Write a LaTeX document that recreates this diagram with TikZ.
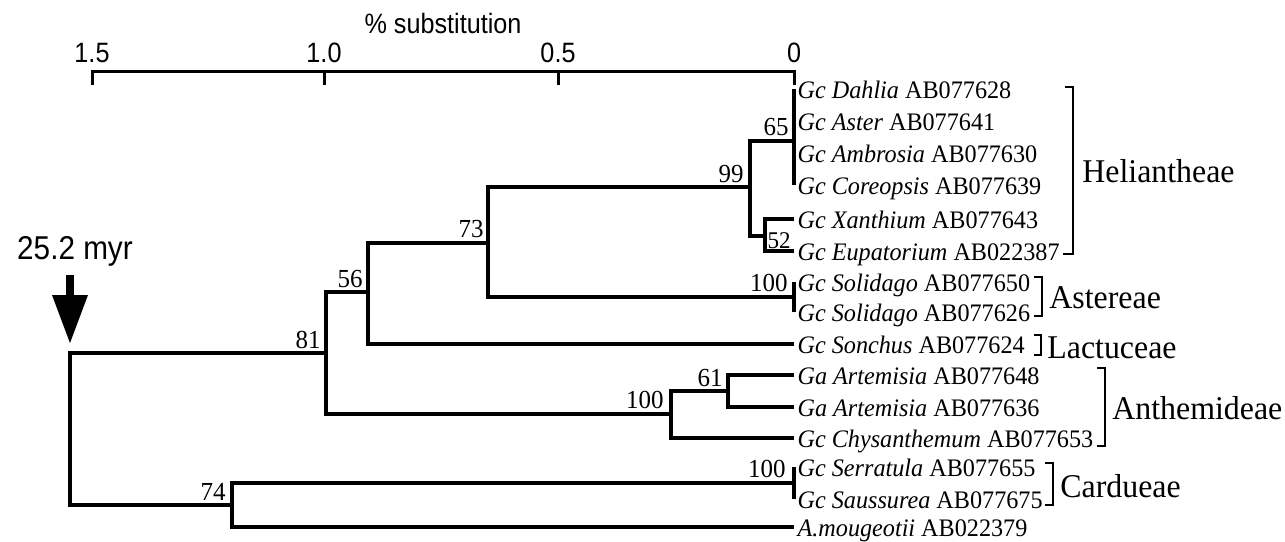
\documentclass[tikz,border=0pt]{standalone}
\usepackage{fontspec}
\setmainfont[FakeStretch=0.96]{Liberation Serif}
\newfontfamily\helv[FakeStretch=0.9]{Liberation Sans}
\begin{document}
\begin{tikzpicture}[x=0.5pt,y=-0.5pt,
  branch/.style={line width=1.7pt, line join=miter},
  bracket/.style={line width=1.4pt, line join=miter},
  axis/.style={line width=1.5pt},
  leaf/.style={anchor=west, inner xsep=1.6pt, inner ysep=0pt, text height=9pt, text depth=0pt,
               font=\fontsize{12.6}{14}\selectfont},
  boot/.style={anchor=base east, inner sep=0pt, font=\fontsize{13}{14}\selectfont},
  clade/.style={anchor=west, inner sep=0pt, text height=11pt, text depth=0pt,
                font=\fontsize{16.6}{18}\selectfont},
  scalelab/.style={anchor=base, inner sep=0pt, font=\helv\fontsize{14}{16}\selectfont}]
\useasboundingbox (0,0) rectangle (1285,541);

% ---- scale bar ----
\draw[axis] (92,85) -- (92,71) -- (794,71) -- (794,85);
\draw[axis] (324,71) -- (324,85);
\draw[axis] (558,71) -- (558,85);
\node[scalelab] (s15) at (92,62) {1.5};
\node[scalelab] (s10) at (324,62) {1.0};
\node[scalelab] (s05) at (558,62) {0.5};
\node[scalelab] (s00) at (794,62) {0};
\node[scalelab] (stitle) at (443,33) {\% substitution};

% ---- root marker ----
\node[anchor=base, inner sep=0pt, font=\helv\fontsize{16.5}{18}\selectfont] (myr) at (75,259) {25.2 myr};
\fill (66,275) rectangle (74,296);
\fill (52,295) -- (88,295) -- (70,343) -- cycle;

% ---- internal nodes ----
\coordinate (root) at (70,430);
\coordinate (n81)  at (326,353);
\coordinate (n56)  at (368,292);
\coordinate (n73)  at (488,243);
\coordinate (n99)  at (750,187);
\coordinate (n65)  at (794,141);
\coordinate (n52)  at (765,236);
\coordinate (nsol) at (794,297);
\coordinate (n100) at (671,414);
\coordinate (n61)  at (728,391);
\coordinate (n74)  at (232,505);
\coordinate (ncar) at (794,483);

% ---- leaves ----
\node[leaf] (dah)  at (794,89)  {\textit{Gc Dahlia} AB077628};
\node[leaf] (ast)  at (794,121) {\textit{Gc Aster} AB077641};
\node[leaf] (amb)  at (794,153) {\textit{Gc Ambrosia} AB077630};
\node[leaf] (cor)  at (794,185) {\textit{Gc Coreopsis} AB077639};
\node[leaf] (xan)  at (794,219) {\textit{Gc Xanthium} AB077643};
\node[leaf] (eup)  at (794,251) {\textit{Gc Eupatorium} AB022387};
\node[leaf] (sol1) at (794,282) {\textit{Gc Solidago} AB077650};
\node[leaf] (sol2) at (794,312) {\textit{Gc Solidago} AB077626};
\node[leaf] (son)  at (794,344) {\textit{Gc Sonchus} AB077624};
\node[leaf] (art1) at (794,375) {\textit{Ga Artemisia} AB077648};
\node[leaf] (art2) at (794,407) {\textit{Ga Artemisia} AB077636};
\node[leaf] (chy)  at (794,438) {\textit{Gc Chysanthemum} AB077653};
\node[leaf] (ser)  at (794,467) {\textit{Gc Serratula} AB077655};
\node[leaf] (sau)  at (794,499) {\textit{Gc Saussurea} AB077675};
\node[leaf] (amo)  at (794,527) {\textit{A.mougeotii} AB022379};

% ---- branches ----
\draw[branch] (root) |- (n81);
\draw[branch] (root) |- (n74);
\draw[branch] (n81) |- (n56);
\draw[branch] (n81) |- (n100);
\draw[branch] (n56) |- (n73);
\draw[branch] (n56) |- (son.west);
\draw[branch] (n73) |- (n99);
\draw[branch] (n73) |- (nsol);
\draw[branch] (n99) |- (n65);
\draw[branch] (n99) |- (n52);
\draw[branch] (n65) |- (dah.west);
\draw[branch] (n65) |- (cor.west);
\draw[branch] (n52) |- (xan.west);
\draw[branch] (n52) |- (eup.west);
\draw[branch] (nsol) |- (sol1.west);
\draw[branch] (nsol) |- (sol2.west);
\draw[branch] (n100) |- (n61);
\draw[branch] (n100) |- (chy.west);
\draw[branch] (n61) |- (art1.west);
\draw[branch] (n61) |- (art2.west);
\draw[branch] (n74) |- (ncar);
\draw[branch] (n74) |- (amo.west);
\draw[branch] (ncar) |- (ser.west);
\draw[branch] (ncar) |- (sau.west);

% ---- bootstrap values ----
\node[boot] (b65)  at (789,135) {65};
\node[boot] (b99)  at (744,182) {99};
\node[boot, font=\fontsize{12}{14}\selectfont] (b52) at (791,248) {52};
\node[boot] (b73)  at (484,237) {73};
\node[boot] (bsol) at (788,291) {100};
\node[boot] (b56)  at (363,287) {56};
\node[boot] (b81)  at (321,348) {81};
\node[boot] (b61)  at (723,386) {61};
\node[boot] (b100) at (664,408) {100};
\node[boot] (bcar) at (786,477) {100};
\node[boot] (b74)  at (226,500) {74};

% ---- tribe brackets ----
\draw[bracket] (1065,87) -| (1073,254) -- (1063,254);
\node[clade] (hel) at (1082,171) {Heliantheae};
\draw[bracket] (1034,277) -| (1042,316) -- (1034,316);
\node[clade] (aste) at (1049,297) {Astereae};
\draw[bracket] (1034,335) -| (1041,355) -- (1034,355);
\node[clade] (lac) at (1047,347) {Lactuceae};
\draw[bracket] (1097,368) -| (1105,446) -- (1097,446);
\node[clade] (ant) at (1112,408) {Anthemideae};
\draw[bracket] (1045,463) -| (1053,505) -- (1045,505);
\node[clade] (car) at (1060,486) {Cardueae};
\end{tikzpicture}
\end{document}
